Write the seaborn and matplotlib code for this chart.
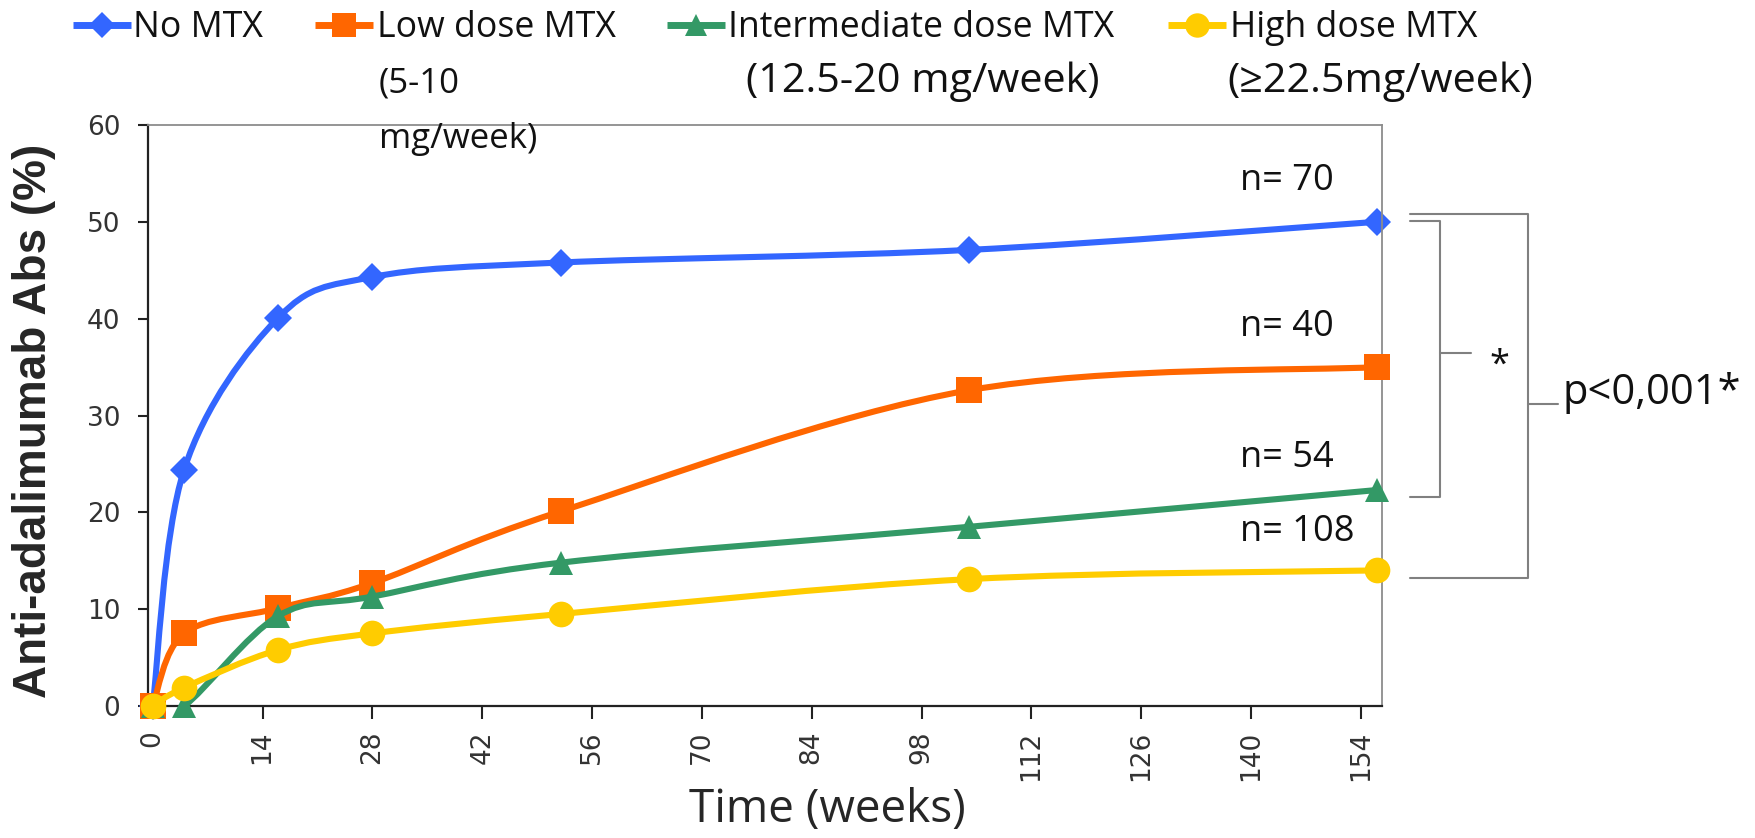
import numpy as np
import matplotlib
matplotlib.use("Agg")
import matplotlib.pyplot as plt
import seaborn as sns
from matplotlib.path import Path
from matplotlib.patches import PathPatch
from matplotlib.lines import Line2D

# ---- data -------------------------------------------------------------
weeks = [0, 4, 16, 28, 52, 104, 156]
no_mtx = [0, 24.4, 40.1, 44.3, 45.8, 47.1, 50.0]
low_dose = [0, 7.5, 10.1, 12.7, 20.1, 32.6, 35.0]
intermediate_dose = [0, 0, 9.3, 11.3, 14.8, 18.5, 22.3]
high_dose = [0, 1.9, 5.8, 7.5, 9.5, 13.1, 14.0]

series_names = ["No MTX", "Low dose MTX", "Intermediate dose MTX", "High dose MTX"]
dose_lines = [[], ["(5-10", "mg/week)"], ["(12.5-20 mg/week)"], ["(\u226522.5mg/week)"]]
group_sizes = ["n= 70", "n= 40", "n= 54", "n= 108"]
x_ticks = list(range(0, 155, 14))
y_ticks = list(range(0, 61, 10))
pair_label = "*"
overall_label = "p<0,001*"

# ---- style ------------------------------------------------------------
sns.set_theme(style="white")
plt.rcParams["font.family"] = ["Open Sans", "DejaVu Sans"]

colors = ["#3366FF", "#FF6600", "#339966", "#FFCC00"]
markers = ["D", "s", "^", "o"]
msizes = [14, 18.5, 17, 18.5]
all_series = [no_mtx, low_dose, intermediate_dose, high_dose]

W, H = 1756, 838
fig = plt.figure(figsize=(W / 100, H / 100), dpi=100)


def fx(px):
    return px / W


def fy(py):
    return 1 - py / H


ax = fig.add_axes([fx(148), fy(706), fx(1382) - fx(148), fy(125) - fy(706)])


def smooth_path(xs, ys):
    """Cubic Bezier path through the points (Catmull-Rom tangents)."""
    pts = np.column_stack([xs, ys]).astype(float)
    n = len(pts)
    verts = [pts[0]]
    codes = [Path.MOVETO]
    for i in range(n - 1):
        p0 = pts[max(i - 1, 0)]
        p1 = pts[i]
        p2 = pts[i + 1]
        p3 = pts[min(i + 2, n - 1)]
        verts += [p1 + (p2 - p0) / 6, p2 - (p3 - p1) / 6, p2]
        codes += [Path.CURVE4] * 3
    return Path(verts, codes)


for k, (vals, c, m, ms) in enumerate(zip(all_series, colors, markers, msizes)):
    patch = PathPatch(smooth_path(weeks, vals), facecolor="none", edgecolor=c,
                      lw=4.4, capstyle="round", joinstyle="round", zorder=2 + k)
    ax.add_patch(patch)
    sns.lineplot(x=weeks, y=vals, ax=ax, color=c, marker=m, markersize=ms,
                 markeredgecolor=c, markeredgewidth=0, linestyle="none",
                 zorder=2.5 + k, clip_on=False, legend=False)

ax.set_xlim(-0.6, 156.7)
ax.set_ylim(0, 60)
ax.set_xticks(x_ticks)
ax.set_yticks(y_ticks)
ax.set_xticklabels([str(t) for t in x_ticks], rotation=90, family="DejaVu Sans",
                   fontsize=19, color="#333333")
ax.set_yticklabels([str(t) for t in y_ticks], family="DejaVu Sans",
                   fontsize=19, color="#333333")
ax.tick_params(axis="y", direction="out", length=7, width=1.5, color="#222222",
               pad=13, left=True)
ax.tick_params(axis="x", direction="out", length=9.5, width=1.5, color="#222222",
               pad=8, bottom=True)
ax.set_xlabel("")
ax.set_ylabel("")
for side in ["left", "bottom"]:
    ax.spines[side].set_color("#222222")
    ax.spines[side].set_linewidth(1.6)
for side in ["top", "right"]:
    ax.spines[side].set_color("#8c8c8c")
    ax.spines[side].set_linewidth(1.3)
ax.grid(False)

# axis titles
fig.text(fx(34), fy(421), "Anti-adalimumab Abs (%)", rotation=90, ha="center",
         va="center", family="Liberation Sans", fontweight="bold", fontsize=33)
fig.text(fx(827), fy(822), "Time (weeks)", ha="center", va="baseline", fontsize=33)

# legend across the top
legend_handle_x = [102, 344, 696, 1197]
legend_text_x = [133, 377, 728, 1230]
legend_sub_x = [133, 379, 746, 1227]
sub_sizes = [25.7, 25, 29.8, 29.8]
line_baselines = [37, 92, 148]
for name, sub, c, m, ms, hx, tx, sx, ss in zip(series_names, dose_lines, colors,
                                              markers, msizes, legend_handle_x,
                                              legend_text_x, legend_sub_x, sub_sizes):
    fig.add_artist(Line2D([fx(hx - 29), fx(hx + 29)], [fy(25), fy(25)], color=c, lw=5,
                          solid_capstyle="butt", transform=fig.transFigure))
    fig.add_artist(Line2D([fx(hx)], [fy(25)], marker=m, markersize=ms * 0.95, color=c,
                          markeredgewidth=0, linestyle="none", transform=fig.transFigure))
    fig.text(fx(tx), fy(line_baselines[0]), name, ha="left", va="baseline",
             fontsize=25.7, color="#111111")
    for j, line in enumerate(sub):
        fig.text(fx(sx), fy(line_baselines[j + 1]), line, ha="left", va="baseline",
                 fontsize=ss, color="#111111")

# group sizes next to the end points
n_pos_y = [54.2, 39.1, 25.6, 18.0]
for label, yv in zip(group_sizes, n_pos_y):
    ax.text(138.6, yv, label, ha="left", va="center", fontsize=26, color="#111111",
            clip_on=False)

# significance brackets
gray = "#808080"
def fig_line(xs, ys):
    fig.add_artist(Line2D([fx(v) for v in xs], [fy(v) for v in ys], color=gray, lw=1.5,
                          transform=fig.transFigure))

fig_line([1410, 1440, 1440, 1410], [221, 221, 497, 497])
fig_line([1440, 1471], [353, 353])
fig.text(fx(1499), fy(366), pair_label, ha="center", va="center", fontsize=26,
         color="#111111")
fig_line([1410, 1528, 1528, 1410], [214, 214, 578, 578])
fig_line([1528, 1558], [404, 404])
fig.text(fx(1563), fy(404), overall_label, ha="left", va="baseline", fontsize=30,
         color="#111111")

fig.savefig("out.png", dpi=100, facecolor="white")
